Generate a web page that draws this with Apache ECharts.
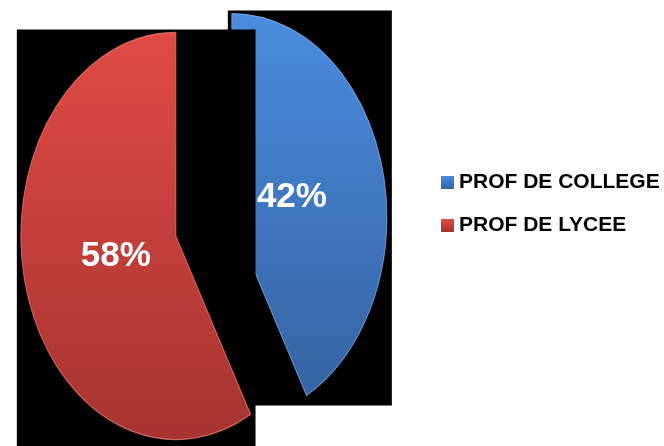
<!DOCTYPE html>
<html>
<head>
<meta charset="utf-8">
<script src="https://cdn.jsdelivr.net/npm/echarts@6/dist/echarts.min.js"></script>
<style>
  html, body { margin: 0; padding: 0; background: #ffffff; }
  #chart { width: 664px; height: 446px; }
</style>
</head>
<body>
<div id="chart"></div>
<script>
// ---- data ----
const categories = ['PROF DE COLLEGE', 'PROF DE LYCEE'];
const values = [42, 58];
const valueLabels = ['42%', '58%'];

// ---- build cumulative fractions from the data ----
const total = values.reduce((s, v) => s + v, 0);
const fracStart = [];
const fracEnd = [];
let acc = 0;
values.forEach(v => { fracStart.push(acc / total); acc += v; fracEnd.push(acc / total); });

const topColors = ['#4a8cde', '#e04a45'];
const bottomColors = ['#3563a2', '#a6332f'];
const rimColors = ['rgba(120,175,240,0.8)', 'rgba(240,115,108,0.8)'];

function grad(i) {
  return new echarts.graphic.LinearGradient(0, 0, 0, 1, [
    { offset: 0, color: topColors[i] },
    { offset: 1, color: bottomColors[i] }
  ]);
}

function renderSlice(i) {
  return function (params, api) {
    const W = api.getWidth(), H = api.getHeight();
    const B = 0.4563 * H;         // vertical semi-axis
    const A = B * 0.7617;         // horizontal semi-axis
    const cx0 = 0.307 * W, cy0 = 0.508 * H;
    const s = api.value(0), e = api.value(1);
    const a0 = 2 * Math.PI * s, a1 = 2 * Math.PI * e; // clockwise from top
    const mid = (a0 + a1) / 2;
    const ex = 0.1865;
    const cx = cx0 + ex * A * Math.sin(mid);
    const cy = cy0 - ex * B * Math.cos(mid);
    // bounding box of the elliptical sector
    const pts = [[cx, cy]];
    const add = (t) => pts.push([cx + A * Math.sin(t), cy - B * Math.cos(t)]);
    add(a0); add(a1);
    for (let k = 0; k < 4; k++) { const t = k * Math.PI / 2; if (t > a0 && t < a1) add(t); }
    const xs = pts.map(p => p[0]), ys = pts.map(p => p[1]);
    const minX = Math.min(...xs) - 4, maxX = Math.max(...xs) + 5;
    const minY = Math.min(...ys) - 3, maxY = Math.max(...ys) + 10;
    const lr = 0.4;
    return {
      type: 'group',
      children: [
        { type: 'rect', shape: { x: minX, y: minY, width: maxX - minX, height: maxY - minY }, style: { fill: '#000000' } },
        {
          type: 'group', x: cx, y: cy, scaleY: B / A,
          children: [{
            type: 'sector',
            shape: { cx: 0, cy: 0, r0: 0, r: A, startAngle: a0 - Math.PI / 2, endAngle: a1 - Math.PI / 2, clockwise: true },
            style: { fill: grad(i), stroke: rimColors[i], lineWidth: 1, strokeNoScale: true }
          }]
        },
        {
          type: 'text',
          style: {
            text: valueLabels[i],
            x: cx + lr * A * Math.sin(mid),
            y: cy - lr * B * Math.cos(mid),
            fill: '#ffffff',
            font: 'bold 35px "Liberation Sans", Arial, sans-serif',
            align: 'center', verticalAlign: 'middle'
          }
        }
      ]
    };
  };
}

const series = categories.map((name, i) => ({
  type: 'custom',
  name: name,
  coordinateSystem: 'none',
  z: 2 + i,
  itemStyle: { color: grad(i) },
  renderItem: renderSlice(i),
  data: [[fracStart[i], fracEnd[i]]],
  silent: true
}));

const chart = echarts.init(document.getElementById('chart'), null, { renderer: 'canvas' });
chart.setOption({
  animation: false,
  backgroundColor: '#ffffff',
  legend: {
    orient: 'vertical',
    left: 441,
    top: 172,
    padding: 0,
    icon: 'rect',
    itemWidth: 13,
    itemHeight: 13,
    itemGap: 22,
    data: categories,
    textStyle: { color: '#000000', fontSize: 21, fontWeight: 'bold', fontFamily: '"Liberation Sans", Arial, sans-serif' }
  },
  series: series
});
</script>
</body>
</html>
